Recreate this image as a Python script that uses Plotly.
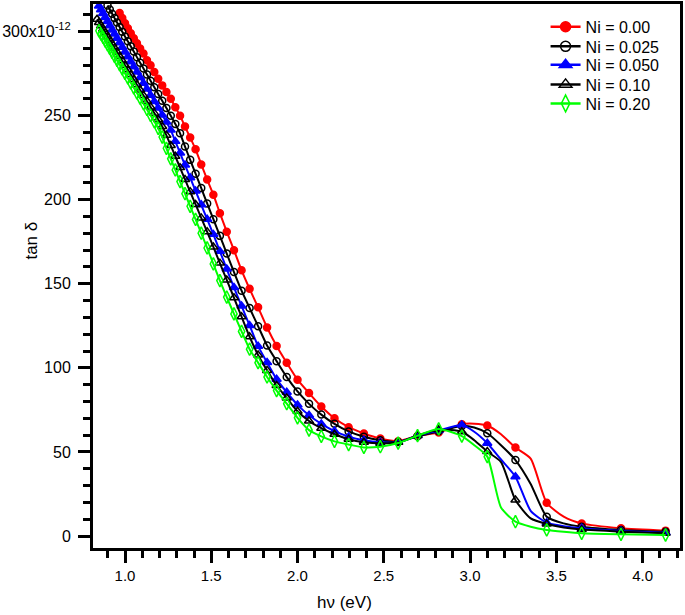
import plotly.graph_objects as go

# photon energy (eV) for wavelengths 1480 -> 300 nm in 20 nm steps (ascending energy)
hv_eV = [0.8378, 0.8493, 0.8611, 0.8732, 0.8857, 0.8986, 0.9118, 0.9254, 0.9394, 0.9538,
         0.9688, 0.9841, 1.0000, 1.0164, 1.0333, 1.0508, 1.0690, 1.0877, 1.1071, 1.1273,
         1.1481, 1.1698, 1.1923, 1.2157, 1.2400, 1.2653, 1.2917, 1.3191, 1.3478, 1.3778,
         1.4091, 1.4419, 1.4762, 1.5122, 1.5500, 1.5897, 1.6316, 1.6757, 1.7222, 1.7714,
         1.8235, 1.8788, 1.9375, 2.0000, 2.0667, 2.1379, 2.2143, 2.2963, 2.3846, 2.4800,
         2.5833, 2.6957, 2.8182, 2.9524, 3.1000, 3.2632, 3.4444, 3.6471, 3.8750, 4.1333]

# intermediate energies (410, 390, 370, 350 nm) used only for the connecting line
hv_line_extra = [3.0244, 3.1795, 3.3514, 3.5429]

# tan delta (x 1e-12)
tan_ni000 = [311, 308, 305, 302, 299, 296, 293, 290, 287, 283,
             280, 276, 272, 268, 264, 260, 255, 250, 243.5, 237,
             230, 221, 212, 203, 192, 181, 170, 158, 147, 136,
             124, 113, 103, 93, 85, 77, 70, 64.7, 61, 58,
             56.4, 59.5, 61.5, 66.5, 65.7, 52.6, 19.8, 7.5, 4.6, 3.2]
tan_ni0025 = [315.5, 313.1, 310.6, 308.0, 305.4, 302.7, 299.9, 297.1, 294.2, 291.2,
              288.1, 284.8, 281.5, 278.1, 274.5, 270.8, 266.9, 262.9, 258.8, 254.5,
              250.0, 245.0, 239.5, 231.6, 223.7, 215.5, 206.9, 197.8, 188.4, 178.5,
              168.0, 157.0, 145.9, 135.6, 124.8, 113.3, 104.0, 94.5, 86.0, 78.6,
              72.2, 66.7, 62.2, 59.0, 56.9, 55.9, 59.3, 62.3, 65.5, 61.1,
              45.2, 11.5, 5.5, 3.6, 2.6]
tan_ni0050 = [315.2, 313.0, 310.7, 308.4, 306.0, 303.5, 301.0, 298.5, 296.0, 293.4,
              290.7, 287.9, 285.1, 282.1, 279.1, 275.9, 272.7, 269.3, 265.8, 262.2,
              258.4, 254.5, 250.4, 246.2, 241.4, 234.7, 227.8, 220.6, 213.1, 205.2,
              197.0, 188.4, 179.4, 169.3, 158.8, 147.8, 136.8, 125.2, 112.9, 103.2,
              93.3, 85.5, 78.0, 71.8, 66.7, 62.4, 59.1, 56.9, 55.7, 55.7,
              59.8, 62.8, 66.0, 55.2, 35.3, 7.9, 4.6, 3.0, 2.0]
tan_ni010 = [307.3, 305.4, 303.4, 301.4, 299.3, 297.1, 294.9, 292.6, 290.3, 287.8,
             285.3, 282.7, 280.0, 277.3, 274.4, 271.5, 268.4, 265.3, 262.0, 258.6,
             255.1, 251.5, 247.7, 243.5, 238.3, 232.2, 225.8, 219.1, 212.1, 204.8,
             197.2, 189.2, 180.9, 171.9, 162.3, 152.3, 141.7, 130.4, 118.5, 107.7,
             98.5, 89.5, 82.1, 74.2, 68.4, 64.1, 60.5, 57.6, 55.8, 55.1,
             55.7, 59.8, 63.2, 62.0, 50.2, 21.4, 7.1, 3.8, 2.6, 1.6]
tan_ni020 = [300.5, 298.5, 296.5, 294.4, 292.2, 290.0, 287.7, 285.3, 282.9, 280.4,
             277.8, 275.1, 272.4, 269.5, 266.6, 263.5, 260.4, 257.1, 253.7, 250.2,
             246.5, 242.5, 237.3, 230.6, 224.3, 217.7, 210.8, 203.6, 196.1, 188.3,
             180.1, 171.3, 161.8, 151.9, 142.1, 132.1, 121.7, 111.1, 103.1, 94.6,
             86.5, 78.7, 70.3, 63.0, 59.3, 56.3, 54.4, 52.7, 53.1, 55.3,
             59.7, 63.7, 59.4, 47.2, 8.5, 3.6, 1.6, 1.0, 0.6]

# line-only values at hv_line_extra
line_extra_ni000 = [66.8, 60.5, 46.0, 11.5]
line_extra_ni0025 = [64.5, 54.0, 31.0, 7.5]
line_extra_ni0050 = [62.0, 45.5, 15.0, 5.8]
line_extra_ni010 = [57.0, 44.0, 10.5, 5.0]
line_extra_ni020 = [54.0, 17.0, 5.5, 2.5]

labels = ["Ni = 0.00", "Ni = 0.025", "Ni = 0.050", "Ni = 0.10", "Ni = 0.20"]

y_tickvals = [0, 50, 100, 150, 200, 250, 300]
y_ticktext = ["0", "50", "100", "150", "200", "250", "300x10<sup>-12</sup>"]
x_tickvals = [1.0, 1.5, 2.0, 2.5, 3.0, 3.5, 4.0]
x_ticktext = ["1.0", "1.5", "2.0", "2.5", "3.0", "3.5", "4.0"]

series = [
    (labels[0], tan_ni000, line_extra_ni000, "#ff0000", "circle", 7, 10),
    (labels[1], tan_ni0025, line_extra_ni0025, "#000000", "circle-open", 7, 10),
    (labels[2], tan_ni0050, line_extra_ni0050, "#0000ff", "triangle-up", 8, 11),
    (labels[3], tan_ni010, line_extra_ni010, "#000000", "triangle-up-open", 8, 11),
    (labels[4], tan_ni020, line_extra_ni020, "#00ff00", "diamond-tall-open", 9, 12),
]

fam = "Arial, Liberation Sans, sans-serif"
legend_y = [0.958, 0.922, 0.888, 0.852, 0.817]
legend_ids = ["legend", "legend2", "legend3", "legend4", "legend5"]

fig = go.Figure()
for i, (name, vals, extra, color, sym, msize, lsize) in enumerate(series):
    xs = hv_eV[len(hv_eV) - len(vals):]
    pts = sorted(list(zip(xs, vals)) + list(zip(hv_line_extra, extra)))
    fig.add_trace(go.Scatter(
        x=[p[0] for p in pts], y=[p[1] for p in pts], mode="lines",
        line=dict(color=color, width=2, shape="spline", smoothing=0.6),
        showlegend=False, hoverinfo="skip"))
    fig.add_trace(go.Scatter(
        x=xs, y=vals, mode="markers",
        marker=dict(symbol=sym, size=msize, color=color, line=dict(color=color, width=1.5)),
        showlegend=False))
    fig.add_trace(go.Scatter(
        x=[None], y=[None], mode="lines+markers", name=name, legend=legend_ids[i],
        line=dict(color=color, width=2.5),
        marker=dict(symbol=sym, size=lsize, color=color, line=dict(color=color, width=1.5))))

legend_common = dict(x=0.771, xanchor="left", yanchor="middle",
                     bgcolor="rgba(0,0,0,0)", borderwidth=0,
                     font=dict(family=fam, size=16, color="black"), itemwidth=30)

fig.update_layout(
    width=685, height=615,
    margin=dict(l=93, r=5, t=4, b=66.5, autoexpand=False),
    paper_bgcolor="white", plot_bgcolor="white",
    font=dict(family=fam, size=15, color="black"),
    showlegend=True,
    legend=dict(y=legend_y[0], **legend_common),
    legend2=dict(y=legend_y[1], **legend_common),
    legend3=dict(y=legend_y[2], **legend_common),
    legend4=dict(y=legend_y[3], **legend_common),
    legend5=dict(y=legend_y[4], **legend_common),
    xaxis=dict(range=[0.8145, 4.217], tickmode="array", tickvals=x_tickvals, ticktext=x_ticktext,
               ticks="outside", ticklen=12, tickwidth=3, tickcolor="black", automargin=False,
               showline=True, linewidth=3, linecolor="black", mirror=True,
               showgrid=False, zeroline=False,
               tickfont=dict(family=fam, size=15, color="black"),
               minor=dict(tick0=0, dtick=0.1, ticks="outside", ticklen=7, tickwidth=3,
                          tickcolor="black", showgrid=False)),
    yaxis=dict(range=[-7.13, 316.4], tickmode="array", tickvals=y_tickvals, ticktext=y_ticktext,
               ticks="outside", ticklen=12, tickwidth=3, tickcolor="black", automargin=False,
               showline=True, linewidth=3, linecolor="black", mirror=True,
               showgrid=False, zeroline=False, ticklabelstandoff=4,
               tickfont=dict(family=fam, size=16, color="black"),
               minor=dict(tick0=0, dtick=10, ticks="outside", ticklen=7, tickwidth=3,
                          tickcolor="black", showgrid=False)),
    annotations=[
        dict(text="hν (eV)", xref="paper", yref="paper", x=0.429, y=-0.100,
             xanchor="center", yanchor="middle", showarrow=False,
             font=dict(family=fam, size=17, color="black")),
        dict(text="tan δ", xref="paper", yref="paper", x=-0.104, y=0.565,
             xanchor="center", yanchor="middle", showarrow=False, textangle=-90,
             font=dict(family=fam, size=17, color="black")),
    ],
)

fig.write_html("out.html", config={"displayModeBar": False},
               post_script="document.body.style.margin='0px';")
